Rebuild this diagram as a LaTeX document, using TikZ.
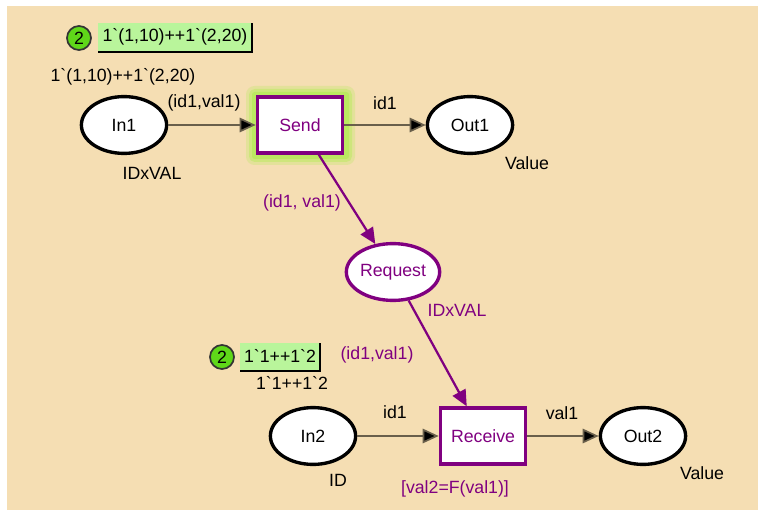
\documentclass[tikz,border=0pt]{standalone}
\usepackage{fontspec}
\setmainfont{Liberation Sans}[Ligatures=TeXOff]
\usetikzlibrary{arrows.meta,shapes.geometric}
\definecolor{tanbg}{RGB}{245,222,179}
\definecolor{cpnpurple}{RGB}{128,0,128}
\definecolor{arcgray}{RGB}{105,95,75}
\definecolor{tokgreen}{RGB}{95,215,25}
\definecolor{boxgreen}{RGB}{185,245,155}
\definecolor{glowgreen}{RGB}{175,235,80}
\newcommand{\bq}{\symbol{96}}
\begin{document}
\begin{tikzpicture}[x=0.025cm,y=-0.025cm,
  every node/.style={font=\fontsize{12.6}{14}\selectfont, inner sep=0pt},
  place/.style={ellipse, draw=black, line width=2.4pt, fill=white, minimum width=2.13cm, minimum height=1.42cm},
  trans/.style={rectangle, draw=cpnpurple, line width=2.4pt, fill=white, minimum width=2.13cm, minimum height=1.4cm, text=cpnpurple},
  arc/.style={draw=arcgray, line width=1.2pt, -{Triangle[length=0.4cm,width=0.36cm,fill=black]}},
  parc/.style={draw=cpnpurple, line width=1.6pt, -{Triangle[length=0.4cm,width=0.36cm,fill=cpnpurple]}},
  token/.style={circle, draw=black!80, line width=1.2pt, fill=tokgreen, minimum size=0.6cm},
  plbl/.style={text=cpnpurple}
]
\useasboundingbox (0,0) rectangle (760,511);
\fill[white] (0,0) rectangle (760,511);
\fill[tanbg] (7,6) rectangle (758,510);

% glow around Send
\fill[glowgreen, opacity=0.25, rounded corners=6pt] (246,86) rectangle (355,165);
\fill[glowgreen, opacity=0.4, rounded corners=4pt] (249,89) rectangle (352,162);
\fill[glowgreen, opacity=0.6, rounded corners=2pt] (252,92) rectangle (349,159);

% places
\node[place] (In1) at (124,125) {In1};
\node[place] (Out1) at (470,125) {Out1};
\node[place, draw=cpnpurple, text=cpnpurple] (Request) at (393,272) {Request};
\node[place] (In2) at (313,436) {In2};
\node[place] (Out2) at (643,436) {Out2};

% transitions
\node[trans] (Send) at (300,125) {Send};
\node[trans] (Receive) at (483,436) {Receive};

% arcs
\draw[arc] (In1) -- (Send);
\draw[arc] (Send) -- (Out1);
\draw[parc] (Send) -- (Request);
\draw[parc] (Request) -- (Receive);
\draw[arc] (In2) -- (Receive);
\draw[arc] (Receive) -- (Out2);

% inscriptions
\node (initIn1) at (123,77) {1\bq(1,10)++1\bq(2,20)};
\node (typeIn1) at (152,173) {IDxVAL};
\node (aIn1) at (204,103) {(id1,val1)};
\node (aOut1) at (385,103) {id1};
\node (typeOut1) at (527,163) {Value};
\node[plbl] (aReq) at (302,203) {(id1, val1)};
\node[plbl] (typeReq) at (457,310) {IDxVAL};
\node[plbl] (aRec) at (377,355) {(id1,val1)};
\node[plbl] (guard) at (455,489) {[val2=F(val1)]};
\node (aIn2) at (395,412) {id1};
\node (typeIn2) at (338,480) {ID};
\node (initIn2) at (292,383) {1\bq1++1\bq2};
\node (aOut2) at (562,413) {val1};
\node (typeOut2) at (702,473) {Value};

% markings
\fill[boxgreen] (98,23) rectangle (252,52);
\draw[black, line width=1.2pt] (98,52) -- (252,52) -- (252,23);
\node (mark1) at (175,37) {1\bq(1,10)++1\bq(2,20)};
\node[token] (tok1) at (79,38) {2};

\fill[boxgreen] (240,343) rectangle (320,371);
\draw[black, line width=1.2pt] (240,371) -- (320,371) -- (320,343);
\node (mark2) at (280,356) {1\bq1++1\bq2};
\node[token] (tok2) at (222,357) {2};
\end{tikzpicture}
\end{document}
